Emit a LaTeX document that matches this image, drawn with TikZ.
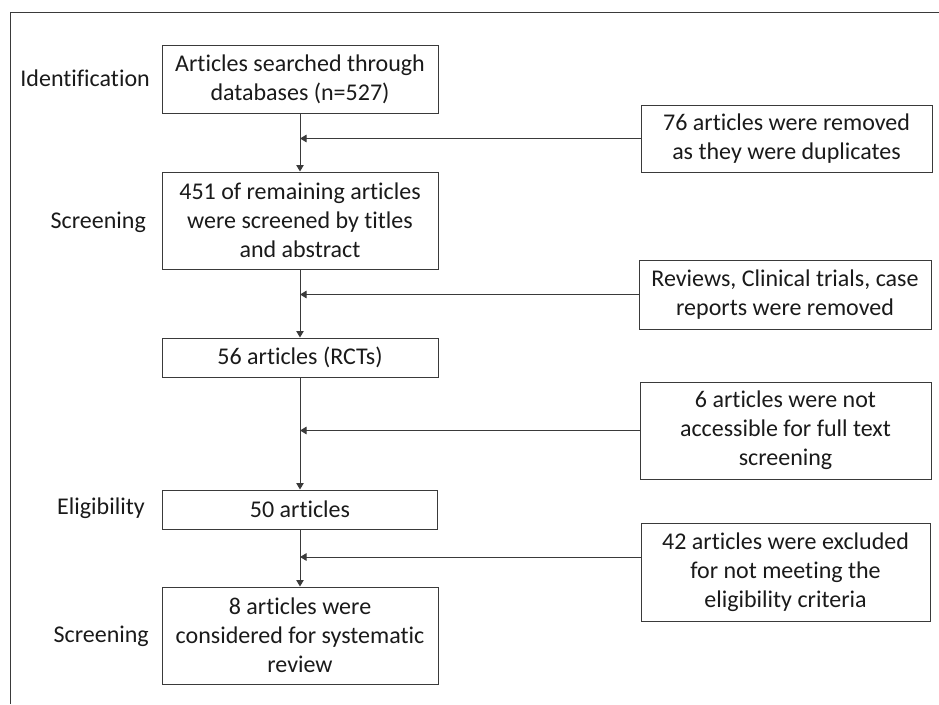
\documentclass[tikz,border=0pt]{standalone}
\usepackage{fontspec}
\setmainfont{Carlito}[Ligatures={NoCommon}]
\usetikzlibrary{arrows.meta}
\definecolor{ln}{HTML}{3A3A3A}
\definecolor{tx}{HTML}{1A1A1A}
\begin{document}
\begin{tikzpicture}[x=1pt,y=-1pt,
  box/.style={draw=ln,line width=1pt,inner sep=0pt,align=center,text=tx,
    font=\fontsize{24}{29}\selectfont},
  lbl/.style={anchor=east,inner sep=0pt,text=tx,font=\fontsize{24}{29}\selectfont},
  conn/.style={draw=ln,line width=1pt,-{Triangle[length=6.5pt,width=7.5pt]}}]
\useasboundingbox (0,0) rectangle (939,704);
\draw[ln,line width=1pt] (10,704) -- (10,12) -- (939,12);
% main column
\node[box,minimum width=276pt,minimum height=68pt] (b1) at (300,79) {Articles searched through\\databases (n=527)};
\node[box,minimum width=276pt,minimum height=97pt] (b2) at (300,220.5) {451 of remaining articles\\were screened by titles\\and abstract};
\node[box,minimum width=276pt,minimum height=39pt] (b3) at (300,357.5) {56 articles (RCTs)};
\node[box,minimum width=275pt,minimum height=39pt] (b4) at (300,509.5) {50 articles};
\node[box,minimum width=276pt,minimum height=97pt] (b5) at (300,635.5) {8 articles were\\considered for systematic\\review};
% side boxes
\node[box,minimum width=291pt,minimum height=67pt] (r1) at (786.5,138.5) {76 articles were removed\\as they were duplicates};
\node[box,minimum width=292pt,minimum height=69pt] (r2) at (785,294.5) {Reviews, Clinical trials, case\\reports were removed};
\node[box,minimum width=291pt,minimum height=97pt] (r3) at (785.5,430.5) {6 articles were not\\accessible for full text\\screening};
\node[box,minimum width=289pt,minimum height=98pt] (r4) at (785.5,572) {42 articles were excluded\\for not meeting the\\eligibility criteria};
% stage labels
\node[lbl] (l1) at (150,78) {Identification};
\node[lbl] (l2) at (146,222) {Screening};
\node[lbl] (l3) at (145,508) {Eligibility};
\node[lbl] (l4) at (149,636) {Screening};
% vertical connectors
\draw[conn] (b1.south) -- (b2.north);
\draw[conn] (b2.south) -- (b3.north);
\draw[conn] (b3.south) -- (b4.north);
\draw[conn] (b4.south) -- (b5.north);
% side connectors
\coordinate (j1) at (300,138.5);
\coordinate (j2) at (300,294.5);
\coordinate (j3) at (300,430.5);
\coordinate (j4) at (300,557);
\coordinate (s4) at (r4.west |- j4);
\draw[conn] (r1.west) -- (j1);
\draw[conn] (r2.west) -- (j2);
\draw[conn] (r3.west) -- (j3);
\draw[conn] (s4) -- (j4);
\end{tikzpicture}
\end{document}
